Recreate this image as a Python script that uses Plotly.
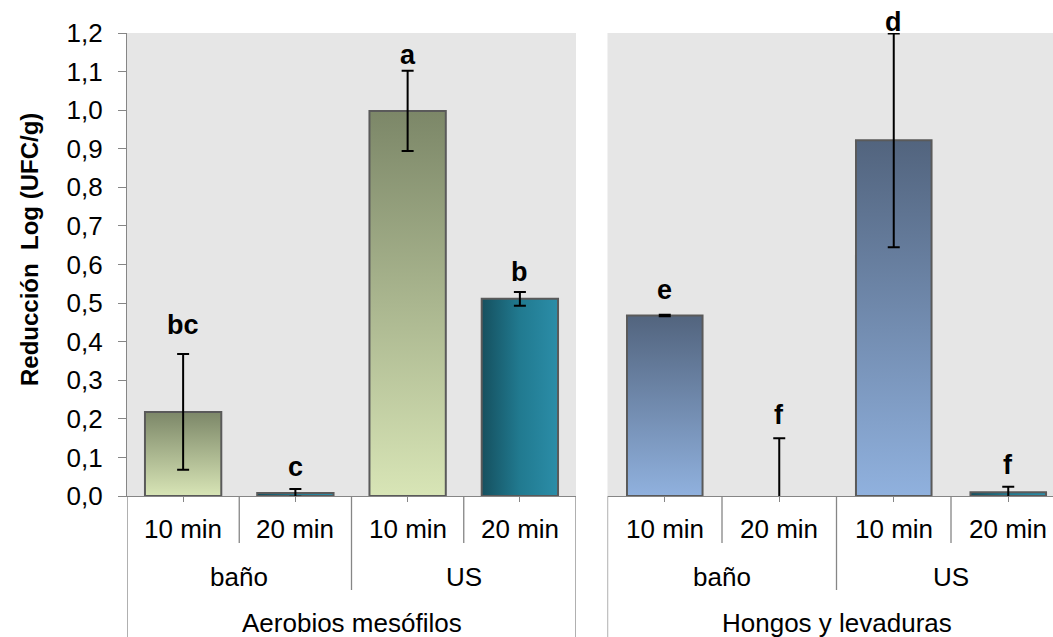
import plotly.graph_objects as go

# ---- data -------------------------------------------------------------
organisms = ["Aerobios mesófilos", "Hongos y levaduras"]
treatments = ["baño", "US"]
times = ["10 min", "20 min"]

# log reduction per (treatment, time): baño 10, baño 20, US 10, US 20
aerobios_mean = [0.218, 0.008, 0.998, 0.511]
aerobios_err = [0.150, 0.010, 0.104, 0.018]
aerobios_letters = ["bc", "c", "a", "b"]

hongos_mean = [0.468, 0.0, 0.922, 0.010]
hongos_err = [0.002, 0.150, 0.277, 0.014]
hongos_letters = ["e", "f", "d", "f"]

y_ticks = [round(0.1 * i, 1) for i in range(13)]

# ---- styling ----------------------------------------------------------
W, H = 1053, 637
FONT = "Liberation Sans, Arial, sans-serif"
GRID_GREY = "#868686"
PLOT_BG = "#e6e6e6"
OUTLINE = "#5a5a5a"

# vertical gradients for the 10 min bars, horizontal for the 20 min bars
grad_10 = {
    0: dict(type="vertical", colorscale=[[0, "#d8e5b6"], [1, "#7c8768"]]),
    1: dict(type="vertical", colorscale=[[0, "#90b1de"], [1, "#52647e"]]),
}
grad_20 = dict(type="horizontal", colorscale=[[0, "#15505f"], [0.5, "#217a90"], [1, "#2b8da8"]])

half_w = [0.34, 0.33]  # bar half-width in category units


def py(y_px):
    """pixel row -> paper fraction"""
    return 1 - y_px / H


x_dom = [[127 / W, 576 / W], [607.5 / W, 1.0]]
y_dom = [py(496), py(33)]
x_rng = [[-0.5, 3.5], [-0.5, -0.5 + (W - 607.5) / 114.5]]

fig = go.Figure()

panels = [
    (aerobios_mean, aerobios_err, aerobios_letters),
    (hongos_mean, hongos_err, hongos_letters),
]
letter_shift = [[29, 22, 16, 20], [25, 23, 11, 22]]

annotations = []
shapes = []

for p, (means, errs, letters) in enumerate(panels):
    xa = "x" if p == 0 else "x2"
    ya = "y" if p == 0 else "y2"
    cats = list(range(len(means)))
    # bars as filled rectangles so they can carry a gradient
    for i, m in enumerate(means):
        if m <= 0:
            continue
        c, w = cats[i], half_w[p]
        grad = grad_10[p] if i % 2 == 0 else grad_20
        fig.add_trace(go.Scatter(
            x=[c - w, c - w, c + w, c + w, c - w],
            y=[0, m, m, 0, 0],
            mode="lines", fill="toself", fillgradient=grad,
            line=dict(color=OUTLINE, width=2),
            xaxis=xa, yaxis=ya, hoverinfo="skip", showlegend=False,
        ))
    # error bars
    fig.add_trace(go.Scatter(
        x=cats, y=means, mode="markers",
        marker=dict(size=1, color="rgba(0,0,0,0)"),
        error_y=dict(type="data", array=errs, symmetric=True,
                     color="black", thickness=2, width=6),
        xaxis=xa, yaxis=ya, showlegend=False, hoverinfo="skip",
    ))
    # significance letters
    for i, lt in enumerate(letters):
        annotations.append(dict(
            x=cats[i], y=means[i] + errs[i], xref=xa, yref=ya,
            text=f"<b>{lt}</b>", showarrow=False, yanchor="middle",
            yshift=letter_shift[p][i],
            font=dict(family=FONT, size=27, color="black"),
        ))
    # category labels: time row, treatment row, organism row
    for i, c in enumerate(cats):
        annotations.append(dict(
            x=c, y=py(529), xref=xa, yref="paper", text=times[i % 2],
            showarrow=False, yanchor="middle",
            font=dict(family=FONT, size=26, color="black"),
        ))
    for g, t in enumerate(treatments):
        annotations.append(dict(
            x=2 * g + 0.5, y=py(577), xref=xa, yref="paper", text=t,
            showarrow=False, yanchor="middle",
            font=dict(family=FONT, size=26, color="black"),
        ))
    annotations.append(dict(
        x=1.5, y=py(623), xref=xa, yref="paper", text=organisms[p],
        showarrow=False, yanchor="middle",
        font=dict(family=FONT, size=26, color="black"),
    ))
    # separators below the axis
    line = dict(color=GRID_GREY, width=1.3)
    for b in (0.5, 2.5):
        shapes.append(dict(type="line", xref=xa, yref="paper", x0=b, x1=b,
                           y0=py(496), y1=py(543), line=line))
    shapes.append(dict(type="line", xref=xa, yref="paper", x0=1.5, x1=1.5,
                       y0=py(496), y1=py(590), line=line))
    edges = (-0.5, 3.5) if p == 0 else (-0.5,)
    for b in edges:
        shapes.append(dict(type="line", xref=xa, yref="paper", x0=b, x1=b,
                           y0=py(496), y1=0, line=line))

# y-axis title
annotations.append(dict(
    x=29 / W, y=py(250), xref="paper", yref="paper",
    xanchor="center", yanchor="middle",
    text="<b>Reducción\u00a0 Log (UFC/g)</b>", textangle=-90, showarrow=False,
    font=dict(family=FONT, size=24, color="black"),
))

axis_common = dict(showgrid=False, zeroline=False, showline=True,
                   linecolor=GRID_GREY, linewidth=1.3, automargin=False)

fig.update_layout(
    width=W, height=H, autosize=False,
    margin=dict(l=0, r=0, t=0, b=0, pad=0, autoexpand=False),
    paper_bgcolor="white", plot_bgcolor=PLOT_BG,
    separators=",.",
    font=dict(family=FONT, size=26, color="black"),
    xaxis=dict(domain=x_dom[0], range=x_rng[0], anchor="y",
               tickvals=list(range(4)), ticks="outside", ticklen=5,
               tickcolor=GRID_GREY, showticklabels=False, **axis_common),
    xaxis2=dict(domain=x_dom[1], range=x_rng[1], anchor="y2",
                tickvals=list(range(4)), ticks="outside", ticklen=5,
                tickcolor=GRID_GREY, showticklabels=False, **axis_common),
    yaxis=dict(domain=y_dom, range=[0, 1.2], anchor="x",
               tickvals=y_ticks, tickformat=".1f", ticks="outside", ticklen=8,
               tickcolor=GRID_GREY, ticklabelstandoff=10,
               tickfont=dict(family=FONT, size=26, color="black"),
               **axis_common),
    yaxis2=dict(domain=y_dom, range=[0, 1.2], anchor="x2",
                showticklabels=False, showgrid=False, zeroline=False,
                showline=False, ticks="", automargin=False),
    annotations=annotations,
    shapes=shapes,
)

fig.write_html("out.html")
